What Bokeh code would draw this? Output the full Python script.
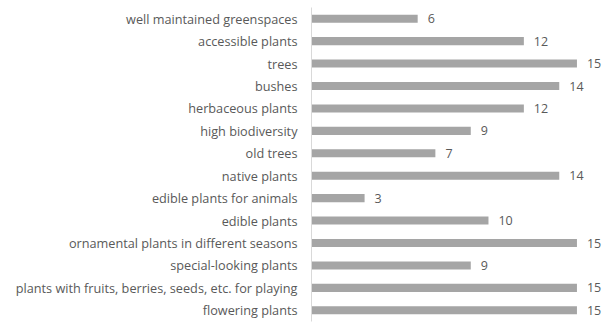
from bokeh.plotting import figure
from bokeh.models import ColumnDataSource, Range1d, FactorRange
from bokeh.core.properties import value
from bokeh.embed import file_html
from bokeh.resources import INLINE

categories = [
    "well maintained greenspaces",
    "accessible plants",
    "trees",
    "bushes",
    "herbaceous plants",
    "high biodiversity",
    "old trees",
    "native plants",
    "edible plants for animals",
    "edible plants",
    "ornamental plants in different seasons",
    "special-looking plants",
    "plants with fruits, berries, seeds, etc. for playing",
    "flowering plants",
]
counts = [6, 12, 15, 14, 12, 9, 7, 14, 3, 10, 15, 9, 15, 15]

src = ColumnDataSource(dict(cat=categories, val=counts, lab=[str(v) for v in counts]))

p = figure(
    width=603, height=323,
    y_range=FactorRange(factors=list(reversed(categories))),
    x_range=Range1d(0, 16.5),
    x_axis_location=None,
    output_backend="svg", toolbar_location=None,
    min_border_left=311, min_border_right=0, min_border_top=7, min_border_bottom=2,
)
p.outline_line_color = None
p.xgrid.visible = False
p.ygrid.visible = False

p.hbar(y="cat", right="val", left=0, height=0.36, source=src,
       fill_color="#a5a5a5", line_color=None)

p.text(x="val", y="cat", text="lab", source=src, x_offset=10,
       text_align="left", text_baseline="middle",
       text_font=value("Open Sans"), text_font_size="12.5px", text_color="#595959")

ax = p.yaxis[0]
ax.axis_line_color = "#d9d9d9"
ax.axis_line_width = 1
ax.major_tick_line_color = None
ax.minor_tick_line_color = None
ax.major_label_standoff = 8
ax.major_label_text_font = "Open Sans"
ax.major_label_text_font_size = "12.7px"
ax.major_label_text_color = "#595959"

open("out.html", "w").write(file_html(p, INLINE))
